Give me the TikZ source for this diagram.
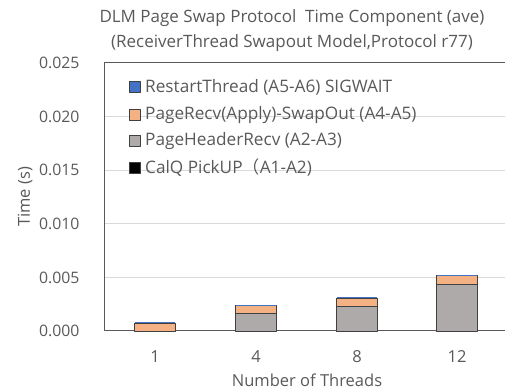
\documentclass[tikz,border=0pt]{standalone}
\usepackage{fontspec}
\setmainfont{Open Sans}
\newfontfamily\cjk{Noto Sans CJK SC}
\definecolor{txtgray}{HTML}{595959}
\definecolor{gridgray}{HTML}{D9D9D9}
\definecolor{barorange}{HTML}{F4B183}
\definecolor{bargray}{HTML}{AEAAAA}
\definecolor{barblue}{HTML}{4472C4}
\tikzset{
  bar/.style={draw=black!75, line width=.9pt},
  legmark/.style={draw=black!75, line width=.5pt, minimum size=11pt, inner sep=0pt},
  legtext/.style={anchor=west, inner sep=0pt, font=\fontsize{17.2}{17}\selectfont},
  tick/.style={anchor=east, font=\fontsize{15.8}{16}\selectfont},
}
\begin{document}
\begin{tikzpicture}[x=1pt, y=1pt, font=\fontsize{16.5}{16}\selectfont, text=txtgray, line join=round]
            \useasboundingbox (0,0) rectangle (505,390);
            % grid
            \draw[gridgray, line width=.6pt] (104,112.6)--(505,112.6)
            (104,166.2)--(505,166.2) (104,219.8)--(505,219.8)
            (104,273.4)--(505,273.4);
            % frame
            \draw[txtgray, line width=1pt] (505,327)--(104,327)
            --(104,59)--(505,59);
            % bars: 1 4 8 12
            \filldraw[bar, fill=barorange] (134.5,59) rectangle (175.5,67);
            \filldraw[bar, fill=bargray] (235.5,59) rectangle (276.5,76.7);
            \filldraw[bar, fill=barorange] (235.5,76.7) rectangle (276.5,84.3);
            \filldraw[bar, fill=bargray] (336.5,59) rectangle (377.5,84);
            \filldraw[bar, fill=barorange] (336.5,84) rectangle (377.5,92);
            \filldraw[bar, fill=bargray] (436.5,59) rectangle (477.5,106);
            \filldraw[bar, fill=barorange] (436.5,106) rectangle (477.5,114.3);
            \draw[barblue, line width=.6pt] (135,67.6)--(175,67.6)
            (236,84.9)--(276,84.9) (337,92.6)--(377,92.6)
            (437,114.9)--(477,114.9);
            % axis labels
            \path
            (83,59)node[tick](y0){0.000}
            (83,112.6)node[tick](y1){0.005}
            (83,166.2)node[tick](y2){0.010}
            (83,219.8)node[tick](y3){0.015}
            (83,273.4)node[tick](y4){0.020}
            (83,327)node[tick](y5){0.025}
            (155,33)node(x1){1}
            (256,33)node(x4){4}
            (357,33)node(x8){8}
            (457,33)node(x12){12}
            (307,3)node[anchor=base](xlab){Number of Threads}
            (25,193)node[rotate=90](ylab){Time (s)}
            (292,372)node[font=\fontsize{17}{17}\selectfont](t1){DLM Page Swap Protocol\ \ Time Component (ave)}
            (292,347)node[font=\fontsize{17}{17}\selectfont](t2){(ReceiverThread Swapout Model,Protocol r77)}
            ;
            % legend
            \node[legmark, fill=barblue] (m1) at (134.5,303) {};
            \node[legmark, fill=barorange] (m2) at (134.5,275) {};
            \node[legmark, fill=bargray] (m3) at (134.5,249) {};
            \node[legmark, fill=black] (m4) at (134.5,222) {};
            \node[legtext] (l1) at (145,303) {RestartThread (A5-A6) SIGWAIT};
            \node[legtext] (l2) at (145,275) {PageRecv(Apply)-SwapOut (A4-A5)};
            \node[legtext] (l3) at (145,249) {PageHeaderRecv (A2-A3)};
            \node[legtext] (l4) at (145,222) {CalQ PickUP{\cjk （}A1-A2)};
        \end{tikzpicture}
\end{document}
